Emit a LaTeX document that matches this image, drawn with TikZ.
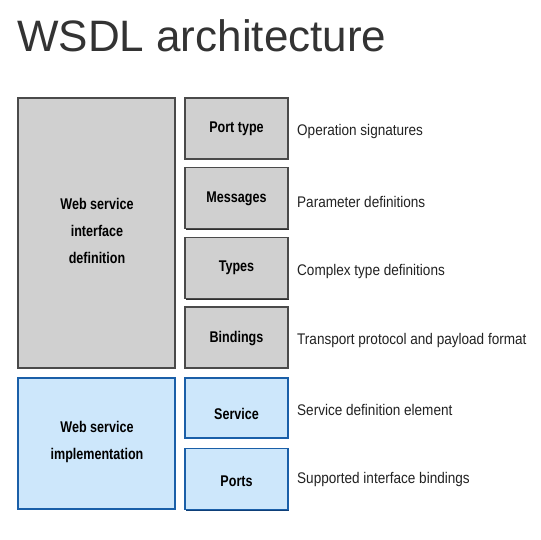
\documentclass[tikz,border=0pt]{standalone}
\usetikzlibrary{shadows}
\usepackage{fontspec}
\setmainfont{Liberation Sans}
\newfontfamily\boxfont[FakeStretch=0.81]{Liberation Sans}
\newfontfamily\descfont[FakeStretch=0.88]{Liberation Sans}
\definecolor{titlegray}{HTML}{333333}
\definecolor{greyfill}{HTML}{D0D0D0}
\definecolor{greyline}{HTML}{4A4A4A}
\definecolor{greyshadow}{HTML}{2E2E2E}
\definecolor{bluefill}{HTML}{CDE7FB}
\definecolor{blueline}{HTML}{1A5FA8}
\definecolor{blueshadow}{HTML}{0E3F78}
\definecolor{desc}{HTML}{222222}
\begin{document}
\begin{tikzpicture}[x=1pt,y=-1pt,
  greybox/.style={fill=greyfill, draw=greyline, line width=1.8pt, inner sep=0pt,
    drop shadow={shadow xshift=1.4pt, shadow yshift=-1.4pt, fill=greyshadow, opacity=1}},
  bluebox/.style={fill=bluefill, draw=blueline, line width=1.8pt, inner sep=0pt,
    drop shadow={shadow xshift=1.4pt, shadow yshift=-1.4pt, fill=blueshadow, opacity=1}},
  lbl/.style={font=\boxfont\bfseries\fontsize{15.5}{27}\selectfont, text=black, align=center},
  desctext/.style={font=\descfont\fontsize{15.4}{17}\selectfont, text=desc, anchor=west, inner sep=0pt}
]
\useasboundingbox (0,0) rectangle (540,540);
\fill[white] (0,0) rectangle (540,540);
% title
\node[anchor=base west, inner sep=0pt, text=titlegray, font=\fontsize{44}{50}\selectfont] (title) at (17,52) {WSDL architecture};
% left big boxes
\node[greybox, minimum width=157pt, minimum height=270pt] (wsid) at (96.5,233) {};
\node[lbl] (wsidt) at (97,230.5) {Web service\\interface\\definition};
\node[bluebox, minimum width=157pt, minimum height=131pt] (wsim) at (96.5,443.5) {};
\node[lbl] (wsimt) at (97,441.5) {Web service\\implementation};
% right boxes
\node[greybox, minimum width=103pt, minimum height=61pt] (pt) at (236.5,128.5) {};
\node[lbl] at (236.5,128.5) {Port type};
\node[greybox, minimum width=103pt, minimum height=61pt] (msg) at (236.5,198) {};
\node[lbl] at (236.5,198.5) {Messages};
\node[greybox, minimum width=103pt, minimum height=61pt] (typ) at (236.5,268) {};
\node[lbl] at (236.5,267.5) {Types};
\node[greybox, minimum width=103pt, minimum height=61pt] (bnd) at (236.5,337.5) {};
\node[lbl] at (236.5,338.5) {Bindings};
\node[bluebox, minimum width=103pt, minimum height=60pt] (svc) at (236.5,408) {};
\node[lbl] at (236.5,413.5) {Service};
\node[bluebox, minimum width=103pt, minimum height=61pt] (prt) at (236.5,479) {};
\node[lbl] at (236.5,481.5) {Ports};
% descriptions
\node[desctext] (d1) at (297,131.5) {Operation signatures};
\node[desctext] (d2) at (297,201.5) {Parameter definitions};
\node[desctext] (d3) at (297,271.5) {Complex type definitions};
\node[desctext] (d4) at (297,340.5) {Transport protocol and payload format};
\node[desctext] (d5) at (297,409.5) {Service definition element};
\node[desctext] (d6) at (297,479.5) {Supported interface bindings};
\end{tikzpicture}
\end{document}
